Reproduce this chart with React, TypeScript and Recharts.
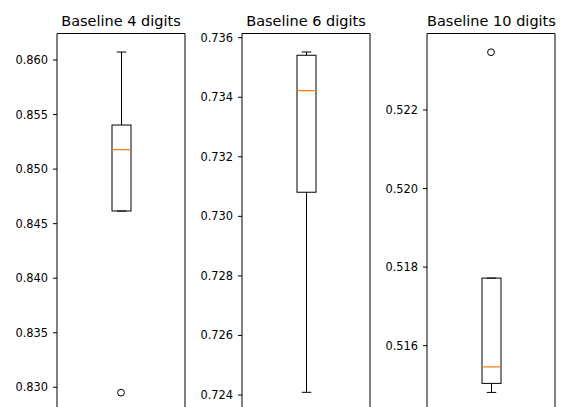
import { ComposedChart, Bar, Scatter, XAxis, YAxis, ReferenceArea } from "recharts";

const TITLES = ["Baseline 4 digits", "Baseline 6 digits", "Baseline 10 digits"];
const LOW_WHISKER = [0.84616, 0.72409, 0.51481];
const Q1 = [0.84616, 0.73081, 0.51504];
const MEDIAN = [0.85178, 0.73422, 0.51546];
const Q3 = [0.85404, 0.73541, 0.51772];
const HIGH_WHISKER = [0.86073, 0.73552, 0.51772];
const OUTLIERS: (number | null)[] = [0.82951, null, 0.52347];
// y limits (the figure is cut off at the bottom)
const Y_MIN = [0.825766, 0.722707, 0.513764];
const Y_MAX = [0.86243, 0.736141, 0.523947];
const TICKS = [
  [0.83, 0.835, 0.84, 0.845, 0.85, 0.855, 0.86],
  [0.724, 0.726, 0.728, 0.73, 0.732, 0.734, 0.736],
  [0.516, 0.518, 0.52, 0.522],
];

const PANEL_STEP = 185;
const AXIS_W = 57;
const PLOT_W = 128;
const TOP = 33.5;
const PLOT_H = 400;
const FONT = "'DejaVu Sans', sans-serif";

function BoxShape(props: any) {
  const { x, y, width, height, payload } = props;
  const top = Math.min(y, y + height);
  const bottom = Math.max(y, y + height);
  const toPx = (v: number) =>
    bottom - ((v - payload.q1) / (payload.q3 - payload.q1)) * (bottom - top);
  const cx = x + width / 2;
  const cap = width / 4;
  const yLo = toPx(payload.lo);
  const yHi = toPx(payload.hi);
  const yMed = toPx(payload.med);
  return (
    <g>
      <line x1={cx} x2={cx} y1={top} y2={yHi} stroke="#000" strokeWidth={1} />
      <line x1={cx} x2={cx} y1={bottom} y2={yLo} stroke="#000" strokeWidth={1} />
      <line x1={cx - cap} x2={cx + cap} y1={yHi} y2={yHi} stroke="#000" strokeWidth={1} />
      <line x1={cx - cap} x2={cx + cap} y1={yLo} y2={yLo} stroke="#000" strokeWidth={1} />
      <rect x={x} y={top} width={width} height={bottom - top} fill="none" stroke="#000" strokeWidth={1} />
      <line x1={x} x2={x + width} y1={yMed} y2={yMed} stroke="#ff7f0e" strokeWidth={1.2} />
    </g>
  );
}

function Flier(props: any) {
  const { cx, cy } = props;
  if (!Number.isFinite(cx) || !Number.isFinite(cy)) return <g />;
  return <circle cx={cx} cy={cy} r={3.4} fill="none" stroke="#000" strokeWidth={1} />;
}

function Panel({ i }: { i: number }) {
  const row = {
    name: TITLES[i],
    box: [Q1[i], Q3[i]],
    q1: Q1[i],
    q3: Q3[i],
    med: MEDIAN[i],
    lo: LOW_WHISKER[i],
    hi: HIGH_WHISKER[i],
    outlier: OUTLIERS[i],
  };
  const domain = [Y_MIN[i], Y_MAX[i]];

  return (
    <div style={{ position: "absolute", left: i * PANEL_STEP, top: 0 }}>
      <div
        style={{
          position: "absolute",
          left: AXIS_W,
          width: PLOT_W,
          top: 14.4,
          textAlign: "center",
          fontFamily: FONT,
          fontSize: 14.5,
          lineHeight: "14.5px",
          whiteSpace: "nowrap",
          color: "#000",
        }}
      >
        {TITLES[i]}
      </div>
      <ComposedChart
        width={AXIS_W + PLOT_W + 1}
        height={TOP + PLOT_H + 1}
        data={[row]}
        margin={{ top: TOP, right: 1, bottom: 1, left: 0 }}
      >
        <XAxis dataKey="name" hide />
        <YAxis
          type="number"
          domain={domain}
          ticks={TICKS[i]}
          allowDataOverflow
          width={AXIS_W}
          axisLine={false}
          tickSize={4}
          tickMargin={5}
          tickLine={{ stroke: "#000" }}
          tick={{ fontSize: 11.4, fill: "#000", fontFamily: FONT }}
          tickFormatter={(v: number) => v.toFixed(3)}
        />
        <ReferenceArea y1={domain[0]} y2={domain[1]} fill="none" stroke="#000" strokeWidth={1} />
        <Bar dataKey="box" barSize={19} shape={BoxShape} isAnimationActive={false} />
        <Scatter dataKey="outlier" shape={Flier} isAnimationActive={false} />
      </ComposedChart>
    </div>
  );
}

export default function App() {
  return (
    <div
      style={{
        position: "fixed",
        left: 0,
        top: 0,
        width: 563,
        height: 407,
        overflow: "hidden",
        background: "#fff",
      }}
    >
      {TITLES.map((_, i) => (
        <Panel key={i} i={i} />
      ))}
    </div>
  );
}
